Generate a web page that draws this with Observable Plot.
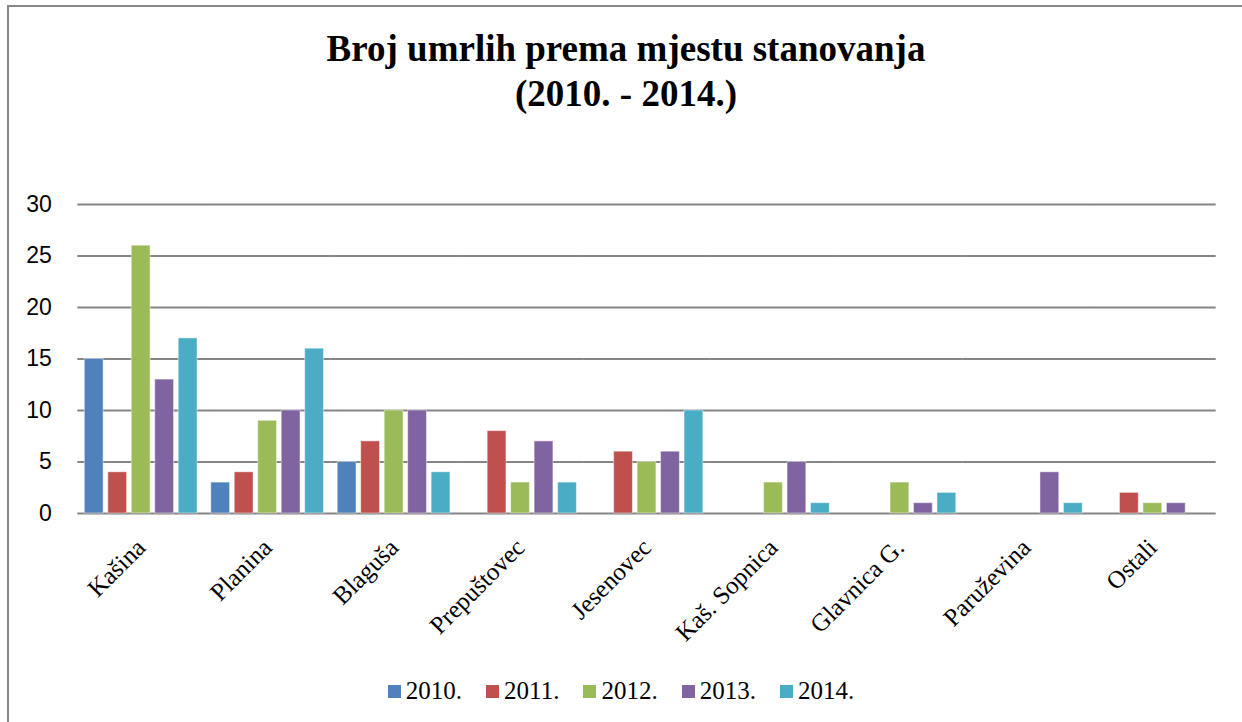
<!DOCTYPE html>
<html><head><meta charset="utf-8">
<script src="https://cdn.jsdelivr.net/npm/d3@7"></script>
<script src="https://cdn.jsdelivr.net/npm/@observablehq/plot@0.6"></script>
<style>
html,body{margin:0;padding:0;background:#fff;width:1242px;height:722px;overflow:hidden;position:relative}
#frame{position:absolute;left:7px;top:5px;width:1300px;height:800px;border-left:2px solid #878787;border-top:2px solid #878787;box-sizing:border-box}
#title{position:absolute;left:8px;width:1236px;top:26px;text-align:center;font:bold 37px/45px "Liberation Serif","Times New Roman",serif;color:#000}
#chart{position:absolute;left:0;top:150px}
#legend{position:absolute;left:0;width:1242px;top:676px;display:flex;justify-content:center;font:25px/30px "Liberation Serif","Times New Roman",serif;color:#000}
.item{display:flex;align-items:center;margin:0 12px}
.sw{width:13px;height:13px;margin-right:5px}
</style></head><body>
<div id="frame"></div>
<div id="title">Broj umrlih prema mjestu stanovanja<br>(2010. - 2014.)</div>
<div id="chart"></div>
<div id="legend"></div>
<script>
const categories = ["Kašina","Planina","Blaguša","Prepuštovec","Jesenovec","Kaš. Sopnica","Glavnica G.","Paruževina","Ostali"];
const years = ["2010.","2011.","2012.","2013.","2014."];
const v2010 = [15, 3, 5, 0, 0, 0, 0, 0, 0];
const v2011 = [4, 4, 7, 8, 6, 0, 0, 0, 2];
const v2012 = [26, 9, 10, 3, 5, 3, 3, 0, 1];
const v2013 = [13, 10, 10, 7, 6, 5, 1, 4, 1];
const v2014 = [17, 16, 4, 3, 10, 1, 2, 1, 0];
const colors = ["#4F81BD","#C0504D","#9BBB59","#8064A2","#4BACC6"];
const yTicks = [0, 5, 10, 15, 20, 25, 30];

const series = [v2010, v2011, v2012, v2013, v2014];
const rows = [];
categories.forEach((c, i) => years.forEach((y, j) => {
  if (series[j][i] > 0) rows.push({category: c, year: y, value: series[j][i]});
}));

const chart = Plot.plot({
  width: 1242, height: 520,
  marginTop: 54, marginBottom: 157, marginLeft: 78, marginRight: 27,
  style: {background: "transparent", overflow: "visible"},
  fx: {domain: categories, paddingInner: 0.109, paddingOuter: 0.05, round: false, label: null},
  x: {domain: years, paddingInner: 0.2, paddingOuter: 0, round: false, axis: null},
  y: {domain: [0, 30], label: null},
  color: {domain: years, range: colors},
  marks: [
    Plot.ruleY(yTicks, {stroke: "#868686", strokeWidth: 2, insetLeft: -7, insetRight: -7}),
    Plot.barY(rows, {fx: "category", x: "year", y: "value", fill: "year", stroke: "#ffffff", strokeOpacity: 0.45, strokeWidth: 1}),
    Plot.axisY({ticks: yTicks, tickSize: 0, tickPadding: 33, fontSize: 23, fontFamily: "Liberation Sans", label: null}),
    Plot.axisFx({anchor: "bottom", tickRotate: -45, tickSize: 0, tickPadding: 30, fontSize: 25, fontFamily: "Liberation Serif", label: null})
  ]
});
document.getElementById("chart").appendChild(chart);

// enforce axis fonts
d3.select(chart).selectAll('g[aria-label="y-axis tick label"]').each(function() {
  this.setAttribute("font-size", "23");
  this.style.fontSize = "23px";
  this.style.fontFamily = '"Liberation Sans", Arial, sans-serif';
});
d3.select(chart).selectAll('g[aria-label="fx-axis tick label"]').each(function() {
  this.setAttribute("font-size", "25");
  this.style.fontSize = "25px";
  this.style.fontFamily = '"Liberation Serif", "Times New Roman", serif';
});

const legend = document.getElementById("legend");
years.forEach((y, j) => {
  const it = document.createElement("div");
  it.className = "item";
  const sw = document.createElement("div");
  sw.className = "sw";
  sw.style.background = colors[j];
  const t = document.createElement("span");
  t.textContent = y;
  it.appendChild(sw); it.appendChild(t);
  legend.appendChild(it);
});
</script>
</body></html>
